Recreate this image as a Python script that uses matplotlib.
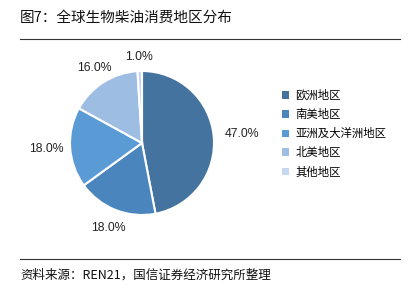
import matplotlib
matplotlib.use("Agg")
import numpy as np
import matplotlib.pyplot as plt
from matplotlib.patches import Patch
from matplotlib.lines import Line2D

plt.rcParams['font.family'] = ['Noto Sans CJK SC', 'DejaVu Sans']

regions = ["欧洲地区", "南美地区", "亚洲及大洋洲地区", "北美地区", "其他地区"]
shares = [47.0, 18.0, 18.0, 16.0, 1.0]
colors = ["#44739f", "#4a85bd", "#5b9bd5", "#9dbde2", "#c6d8ef"]
# label distance from centre, in pie radii, per slice
label_r = [1.40, 1.27, 1.33, 1.23, 1.19]

W, H = 417, 291
fig = plt.figure(figsize=(W / 100, H / 100), dpi=100)

# pie axes: centre (142,143) px, radius 72 px
cx, cy, r = 142, 143, 72
ax = fig.add_axes([(cx - r) / W, 1 - (cy + r) / H, 2 * r / W, 2 * r / H])
wedges, texts, autotexts = ax.pie(
    shares, colors=colors, startangle=90, counterclock=False,
    autopct="%.1f%%", pctdistance=1.3, radius=1.0,
    wedgeprops=dict(edgecolor="white", linewidth=1.5),
    textprops=dict(fontsize=8.8, color="#222222", family="Liberation Sans"),
)
for w, t, d in zip(wedges, autotexts, label_r):
    a = np.deg2rad((w.theta1 + w.theta2) / 2)
    t.set_position((d * np.cos(a), d * np.sin(a)))
ax.set_xlim(-1, 1)
ax.set_ylim(-1, 1)
ax.set_aspect("equal")
ax.axis("off")

# title and rules
fig.text(20 / W, 1 - 18 / H, "图7：全球生物柴油消费地区分布", fontsize=10.5,
         ha="left", va="center", color="#111111")
fig.add_artist(Line2D([20 / W, 400 / W], [1 - 39 / H, 1 - 39 / H],
                      color="#333333", lw=0.8))
fig.add_artist(Line2D([20 / W, 400 / W], [1 - 259 / H, 1 - 259 / H],
                      color="#333333", lw=0.8))
fig.text(20 / W, 1 - 275 / H, "资料来源：REN21，国信证券经济研究所整理", fontsize=9,
         ha="left", va="center", color="#111111")

handles = [Patch(facecolor=c, edgecolor="none") for c in colors]
fig.legend(handles, regions, loc="upper left",
           bbox_to_anchor=(276 / W, 1 - 84 / H), frameon=False,
           fontsize=8.2, handlelength=0.6, handleheight=0.6,
           handletextpad=0.6, labelspacing=0.7, borderpad=0)

fig.savefig("out.png", dpi=100, facecolor="white")
